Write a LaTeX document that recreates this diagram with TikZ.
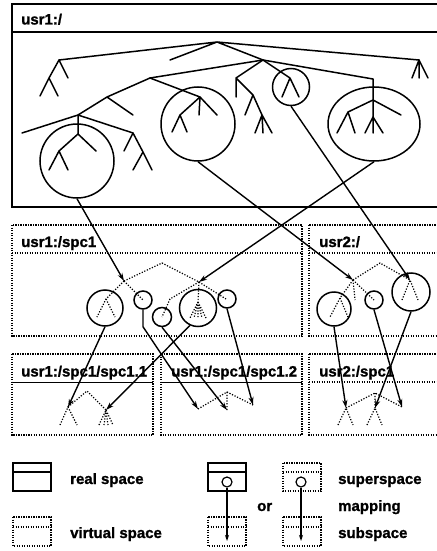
\documentclass[tikz,border=0pt]{standalone}
\usepackage{fontspec}
\setmainfont[BoldFeatures={FakeBold=1.2}]{Liberation Sans}
\usetikzlibrary{arrows.meta, shapes.geometric, calc}
\tikzstyle{realline}  = [line width=1.8pt]
\tikzstyle{virtline}  = [line width=1.3pt, dash pattern=on 1.2pt off 1.3pt]
\tikzstyle{branch}    = [line width=1.5pt, line cap=round, line join=round]
\tikzstyle{vbranch}   = [line width=1.2pt, dash pattern=on 1.2pt off 1.6pt]
\tikzstyle{region}    = [circle, draw, line width=1.5pt, inner sep=0pt]
\tikzstyle{mapping}   = [line width=1.4pt, -{Stealth[length=8pt,width=5pt]}]
\tikzstyle{spacename} = [anchor=base west, inner sep=0pt, font=\fontsize{15}{18}\selectfont\bfseries]

\begin{document}
\begin{tikzpicture}[x=1pt, y=-1pt]
  \useasboundingbox (0,0) rectangle (436,551);
  \fill[white] (0,0) rectangle (436,551);

  % Real space usr1:/
  \draw[realline] (12,4) rectangle (450,207);
  \draw[realline] (12,32) -- (450,32);
  \node[spacename] (nroot) at (21,24.5) {usr1:/};

  % Tree of usr1:/
  \draw[branch] (170,60) -- (217,42) -- (59,60) -- (68,78);
  \draw[branch] (217,42) -- (419,60) (217,42) -- (263,60);
  \draw[branch] (59,60) -- (49,78) -- (40,96) (49,78) -- (58,96);
  \draw[branch] (412,78) -- (419,60) -- (428,78) (419,60) -- (419,78);
  \draw[branch] (150,78) -- (263,60) -- (373,79) -- (373,117);
  \draw[branch] (263,60) -- (236,78) -- (236,97) (236,78) -- (253,95) -- (245,115) (253,95) -- (262,115);
  \draw[branch] (255,133) -- (262,115) -- (272,133) (262,115) -- (263,133);
  \draw[branch] (263,60) -- (290,78) -- (282,97) (290,78) -- (299,97);
  \draw[branch] (150,78) -- (200,97) -- (199,115) (200,97) -- (217,115)
                (200,97) -- (180,115) -- (172,132) (180,115) -- (187,132);
  \draw[branch] (150,78) -- (107,97) -- (133,115) (107,97) -- (78,115) -- (22,133) (78,115) -- (133,133);
  \draw[branch] (78,115) -- (78,134) -- (59,151) -- (49,170) (59,151) -- (68,170) (78,134) -- (96,151);
  \draw[branch] (133,133) -- (124,151) (133,133) -- (143,152) -- (133,170) (143,152) -- (152,170);
  \draw[branch] (373,100) -- (348,112) -- (337,133) (348,112) -- (355,133) (373,100) -- (401,115);
  \draw[branch] (365,133) -- (373,117) -- (383,133) (373,117) -- (373,133);

  \node[region, minimum size=74pt] (cL) at (77,161) {};
  \node[region, minimum size=74pt] (cM) at (198,124) {};
  \node[region, minimum size=37pt] (cS) at (291,87) {};
  \node[region, ellipse, minimum width=92pt, minimum height=74pt] (cR) at (374,124) {};

  % Virtual spaces usr1:/spc1 and usr2:/
  \draw[virtline] (12,225) rectangle (302,336);
  \draw[virtline] (12,253) -- (302,253);
  \node[spacename] (nspc) at (21,247) {usr1:/spc1};
  \draw[virtline] (309,225) rectangle (450,336);
  \draw[virtline] (309,253) -- (450,253);
  \node[spacename] (nusr) at (319,247) {usr2:/};

  % Tree of usr1:/spc1
  \coordinate (a1) at (162,263);
  \coordinate (n1) at (124,281);
  \coordinate (n2) at (199,282);
  \draw[vbranch] (n1) -- (a1) -- (n2);
  \draw[vbranch] (n1) -- (106,299) -- (97,317) (106,299) -- (115,317);
  \draw[vbranch] (n1) -- (143,300);
  \draw[vbranch] (n2) -- (170,299) -- (162,317);
  \draw[vbranch] (n2) -- (198,302) -- (190,318) (198,302) -- (194,318) (198,302) -- (198,318)
                 (198,302) -- (202,318) (198,302) -- (206,318);
  \draw[vbranch] (n2) -- (226,299);
  \node[region, minimum size=36pt] (cA) at (105,308) {};
  \node[region, minimum size=18pt] (sA) at (143,300) {};
  \node[region, minimum size=19pt] (sB) at (162,317) {};
  \node[region, minimum size=37pt] (cB) at (198,308) {};
  \node[region, minimum size=18pt] (sC) at (227,299) {};

  % Tree of usr2:/
  \coordinate (a2) at (380,263);
  \coordinate (n3) at (353,280);
  \coordinate (n4) at (410,280);
  \draw[vbranch] (n3) -- (a2) -- (n4);
  \draw[vbranch] (n3) -- (340,298) -- (330,317) (340,298) -- (348,317);
  \draw[vbranch] (n3) -- (355,300) (n3) -- (374,300);
  \draw[vbranch] (402,300) -- (n4) -- (418,300);
  \node[region, minimum size=34pt] (cC) at (334,309) {};
  \node[region, minimum size=18pt] (sD) at (374,300) {};
  \node[region, minimum size=38pt] (cD) at (411,292) {};

  % Virtual spaces of the bottom row
  \draw[virtline] (12,354) rectangle (153,435);
  \draw[line width=1pt] (12,382) -- (153,382);
  \node[spacename] (nsub1) at (21,376.5) {usr1:/spc1/spc1.1};
  \draw[virtline] (161,354) rectangle (302,435);
  \draw[line width=1pt] (161,382) -- (302,382);
  \node[spacename] (nsub2) at (171,376.5) {usr1:/spc1/spc1.2};
  \draw[virtline] (309,354) rectangle (450,435);
  \draw[virtline] (309,382) -- (450,382);
  \node[spacename] (nsub3) at (319,376.5) {usr2:/spc1};

  % Trees of the bottom row
  \coordinate (a3) at (87,391);
  \coordinate (n5) at (68,407);
  \coordinate (n6) at (106,410);
  \draw[vbranch] (n5) -- (a3) -- (n6);
  \draw[vbranch] (60,425) -- (n5) -- (77,425);
  \draw[vbranch] (99,425) -- (n6) -- (113,425) (n6) -- (104,425) (n6) -- (108,425);
  \coordinate (a4) at (227,392);
  \coordinate (n7) at (198,409);
  \coordinate (n8) at (253,405);
  \coordinate (n9) at (227,410);
  \draw[vbranch] (n7) -- (a4) -- (n8) (a4) -- (n9);
  \coordinate (a5) at (375,393);
  \coordinate (n10) at (346,408);
  \coordinate (n11) at (375,408);
  \coordinate (n12) at (402,407);
  \draw[vbranch] (n10) -- (a5) -- (n12) (a5) -- (n11);
  \draw[vbranch] (338,425) -- (n10) -- (353,425);
  \draw[vbranch] (367,425) -- (n11) -- (382,425);

  % Mappings
  \draw[mapping] (cL.south) -- (n1);
  \draw[mapping] (cR.south) -- (n2);
  \draw[mapping] (cM.south) -- (n3);
  \draw[mapping] (cS.south) -- (n4);
  \draw[mapping] (cA.south) -- (n5);
  \draw[mapping] (cB.-115) -- (n6);
  \draw[mapping] (sA.south) -- ($(sA.south)+(0,17)$) -- (n7);
  \draw[mapping] (sB.south) -- (n9);
  \draw[mapping] (sC.south) -- (n8);
  \draw[mapping] (cC.south) -- (n10);
  \draw[mapping] (cD.south) -- (n11);
  \draw[mapping] (sD.south) -- (n12);

  % Legend
  \draw[line width=1.5pt] (13,463) rectangle (51,491) (13,472) -- (51,472);
  \node[spacename] (kreal) at (70,484) {real space};
  \draw[virtline] (13,517) rectangle (51,546) (13,527) -- (51,527);
  \node[spacename] (kvirt) at (70,538) {virtual space};

  \draw[line width=1.5pt] (208,463) rectangle (246,491) (208,472) -- (246,472);
  \draw[virtline] (208,517) rectangle (246,546) (208,527) -- (246,527);
  \node[region, line width=1.2pt, minimum size=10pt] (m1) at (227,482) {};
  \coordinate (e1) at (227,541);
  \draw[line width=1.2pt, -{Stealth[length=6pt,width=4pt]}] (m1.south) -- (e1);
  \node[spacename] (kor) at (257,511) {or};

  \draw[virtline] (283,463) rectangle (321,491) (283,472) -- (321,472);
  \draw[virtline] (283,517) rectangle (321,546) (283,527) -- (321,527);
  \node[region, line width=1.2pt, minimum size=10pt] (m2) at (301,482) {};
  \coordinate (e2) at (301,541);
  \draw[line width=1.2pt, -{Stealth[length=6pt,width=4pt]}] (m2.south) -- (e2);
  \node[spacename] (ksup) at (338,484) {superspace};
  \node[spacename] (kmap) at (338,511) {mapping};
  \node[spacename] (ksub) at (338,538) {subspace};
\end{tikzpicture}
\end{document}
